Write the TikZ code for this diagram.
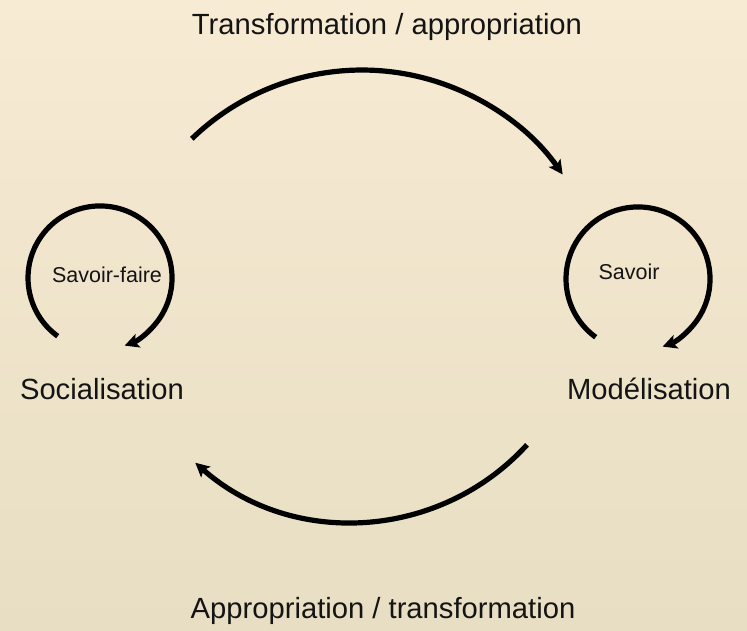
\documentclass[tikz,border=0pt]{standalone}
\usepackage{fontspec}
\setmainfont{Liberation Sans}
\usetikzlibrary{arrows.meta}
\definecolor{bgtop}{HTML}{F7EBD3}
\definecolor{bgbot}{HTML}{E7DEC3}
\definecolor{ink}{HTML}{141414}
\tikzset{
  arr/.style={line width=5.2pt, draw=black, -{Stealth[length=14pt,width=14pt,inset=3pt]}},
  biglabel/.style={anchor=base, inner sep=0pt, text=ink, font=\fontsize{29.2}{34}\selectfont},
  smalllabel/.style={anchor=base, inner sep=0pt, text=ink, font=\fontsize{21.5}{26}\selectfont}
}
\begin{document}
\begin{tikzpicture}[x=1pt,y=1pt]
\shade[top color=bgtop, bottom color=bgbot] (0,0) rectangle (747,631);
\useasboundingbox (0,0) rectangle (747,631);

% labels
\node[biglabel] (ttop) at (387,596.5) {Transformation / appropriation};
\node[biglabel] (tbot) at (383,12) {Appropriation / transformation};
\node[biglabel] (soc) at (102,231) {Socialisation};
\node[biglabel] (mod) at (649,231) {Modélisation};
\node[smalllabel] (sf) at (107,348) {Savoir-faire};
\node[smalllabel] (sv) at (629,351) {Savoir};

% start points of connectors
\coordinate (ls) at (57.7,294.8);
\coordinate (rs) at (595.7,293.8);
\coordinate (ts) at (191.8,492.2);
\coordinate (bs) at (527,186.2);

% self loops
\draw[arr] (ls) arc[start angle=234, end angle=-70, radius=72];
\draw[arr] (rs) arc[start angle=234, end angle=-70, radius=72];

% big arcs
\draw[arr] (ts) arc[start angle=134, end angle=35, radius=245];
\draw[arr] (bs) arc[start angle=-42.4, end angle=-131.4, radius=237];
\end{tikzpicture}
\end{document}
